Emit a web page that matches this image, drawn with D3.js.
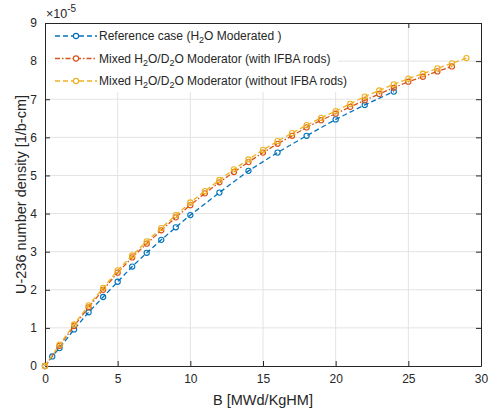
<!DOCTYPE html>
<html>
<head>
<meta charset="utf-8">
<script src="https://cdn.jsdelivr.net/npm/d3@7"></script>
<style>
  body { margin: 0; background: #fff; }
  text { font-family: "Liberation Sans", Arial, sans-serif; fill: #262626; }
</style>
</head>
<body>
<div id="chart"></div>
<script>
const width = 490;
const height = 412;
const margin = { top: 23, right: 9, bottom: 46, left: 45 };

// Burnup steps (MWd/KgHM) and U-236 densities (x1e-5 1/b-cm)
const refBurnup = [0, 0.5, 1, 2, 3, 4, 5, 6, 7, 8, 9, 10, 12, 14, 16, 18, 20, 22, 24];
const refDensity = [0, 0.25, 0.47, 0.96, 1.41, 1.81, 2.21, 2.61, 2.97, 3.31, 3.64, 3.96,
  4.55, 5.12, 5.60, 6.04, 6.47, 6.85, 7.20];

const ifbaBurnup = d3.range(0, 29);
const ifbaDensity = [0, 0.53, 1.05, 1.54, 2.00, 2.45, 2.85, 3.21, 3.56, 3.90, 4.22, 4.53,
  4.82, 5.09, 5.35, 5.60, 5.83, 6.04, 6.26, 6.45, 6.62, 6.80, 6.97, 7.14, 7.30, 7.46,
  7.59, 7.73, 7.86];

const noIfbaBurnup = d3.range(0, 30);
const noIfbaDensity = [0, 0.56, 1.09, 1.59, 2.05, 2.51, 2.90, 3.27, 3.62, 3.96, 4.29, 4.59,
  4.88, 5.16, 5.42, 5.67, 5.90, 6.11, 6.32, 6.51, 6.69, 6.88, 7.07, 7.23, 7.39, 7.54,
  7.67, 7.81, 7.94, 8.08];

const xTicks = [0, 5, 10, 15, 20, 25, 30];
const yTicks = [0, 1, 2, 3, 4, 5, 6, 7, 8, 9];

const series = [
  { name: "ref", x: refBurnup, y: refDensity, color: "#0072BD", dash: "5,3" },
  { name: "ifba", x: ifbaBurnup, y: ifbaDensity, color: "#D95319", dash: "5,2,1.5,2" },
  { name: "noifba", x: noIfbaBurnup, y: noIfbaDensity, color: "#EDB120", dash: "5,3" }
];

const svg = d3.select("#chart").append("svg")
  .attr("width", width)
  .attr("height", height);

const x = d3.scaleLinear().domain([0, 30]).range([margin.left, width - margin.right]);
const y = d3.scaleLinear().domain([0, 9]).range([height - margin.bottom, margin.top]);

// Grid
svg.append("g").selectAll("line")
  .data(xTicks.slice(1, -1))
  .enter().append("line")
  .attr("x1", d => x(d)).attr("x2", d => x(d))
  .attr("y1", y(0)).attr("y2", y(9))
  .attr("stroke", "#e3e3e3");
svg.append("g").selectAll("line")
  .data(yTicks.slice(1, -1))
  .enter().append("line")
  .attr("y1", d => y(d)).attr("y2", d => y(d))
  .attr("x1", x(0)).attr("x2", x(30))
  .attr("stroke", "#e3e3e3");

// Axes (box with inward ticks)
const tickLen = 5;
const axisColor = "#262626";
const tickFont = 12;
svg.append("g")
  .attr("transform", `translate(0,${y(0)})`)
  .call(d3.axisBottom(x).tickValues(xTicks).tickSizeInner(-tickLen).tickSizeOuter(0).tickPadding(8))
  .call(g => g.selectAll("text").attr("font-size", tickFont).attr("fill", axisColor))
  .call(g => g.selectAll("line, path").attr("stroke", axisColor));
svg.append("g")
  .attr("transform", `translate(0,${y(9)})`)
  .call(d3.axisTop(x).tickValues(xTicks).tickSizeInner(-tickLen).tickSizeOuter(0).tickFormat(""))
  .call(g => g.selectAll("line, path").attr("stroke", axisColor));
svg.append("g")
  .attr("transform", `translate(${x(0)},0)`)
  .call(d3.axisLeft(y).tickValues(yTicks).tickSizeInner(-tickLen).tickSizeOuter(0).tickPadding(8))
  .call(g => g.selectAll("text").attr("font-size", tickFont).attr("fill", axisColor))
  .call(g => g.selectAll("line, path").attr("stroke", axisColor));
svg.append("g")
  .attr("transform", `translate(${x(30)},0)`)
  .call(d3.axisRight(y).tickValues(yTicks).tickSizeInner(-tickLen).tickSizeOuter(0).tickFormat(""))
  .call(g => g.selectAll("line, path").attr("stroke", axisColor));
svg.selectAll(".domain").attr("stroke-width", 1);

// Exponent label
const expo = svg.append("text")
  .attr("x", x(0) + 1)
  .attr("y", y(9) - 5)
  .attr("font-size", 12.5);
expo.append("tspan").text("\u00d710");
expo.append("tspan").attr("dy", -6).attr("font-size", 10).text("-5");

// Axis titles
svg.append("text")
  .attr("x", (x(0) + x(30)) / 2)
  .attr("y", height - 7)
  .attr("text-anchor", "middle")
  .attr("font-size", 14.5)
  .text("B [MWd/KgHM]");
svg.append("text")
  .attr("transform", `translate(26,${(y(0) + y(9)) / 2}) rotate(-90)`)
  .attr("text-anchor", "middle")
  .attr("font-size", 14.5)
  .text("U-236 number density [1/b-cm]");

// Series
const line = d3.line().x(d => x(d[0])).y(d => y(d[1]));
series.forEach(s => {
  const pts = s.x.map((v, i) => [v, s.y[i]]);
  const g = svg.append("g");
  g.append("path")
    .attr("d", line(pts))
    .attr("fill", "none")
    .attr("stroke", s.color)
    .attr("stroke-width", 1.3)
    .attr("stroke-dasharray", s.dash);
  g.selectAll("circle")
    .data(pts)
    .enter().append("circle")
    .attr("cx", d => x(d[0]))
    .attr("cy", d => y(d[1]))
    .attr("r", 2.6)
    .attr("fill", "none")
    .attr("stroke", s.color)
    .attr("stroke-width", 1.1);
});

// Legend
const legendLabels = [
  ["Reference case (H", "2", "O Moderated )"],
  ["Mixed H", "2", "O/D", "2", "O Moderator (with IFBA rods)"],
  ["Mixed H", "2", "O/D", "2", "O Moderator (without IFBA rods)"]
];
const lg = svg.append("g");
lg.append("rect")
  .attr("x", x(0) + 1).attr("y", y(9) + 1)
  .attr("width", 292).attr("height", 68)
  .attr("fill", "#fff");
series.forEach((s, i) => {
  const ly = y(9) + 13 + i * 22.5;
  lg.append("line")
    .attr("x1", 55).attr("x2", 97)
    .attr("y1", ly).attr("y2", ly)
    .attr("stroke", s.color).attr("stroke-width", 1.3)
    .attr("stroke-dasharray", s.dash);
  lg.append("circle")
    .attr("cx", 76).attr("cy", ly).attr("r", 2.6)
    .attr("fill", "#fff").attr("stroke", s.color).attr("stroke-width", 1.1);
  const t = lg.append("text")
    .attr("x", 99).attr("y", ly + 4)
    .attr("font-size", 12);
  legendLabels[i].forEach((part, j) => {
    const sub = part === "2";
    const prevSub = j > 0 && legendLabels[i][j - 1] === "2";
    t.append("tspan")
      .attr("dy", sub ? 3 : (prevSub ? -3 : 0))
      .attr("font-size", sub ? 9 : 12)
      .text(part);
  });
});
</script>
</body>
</html>
